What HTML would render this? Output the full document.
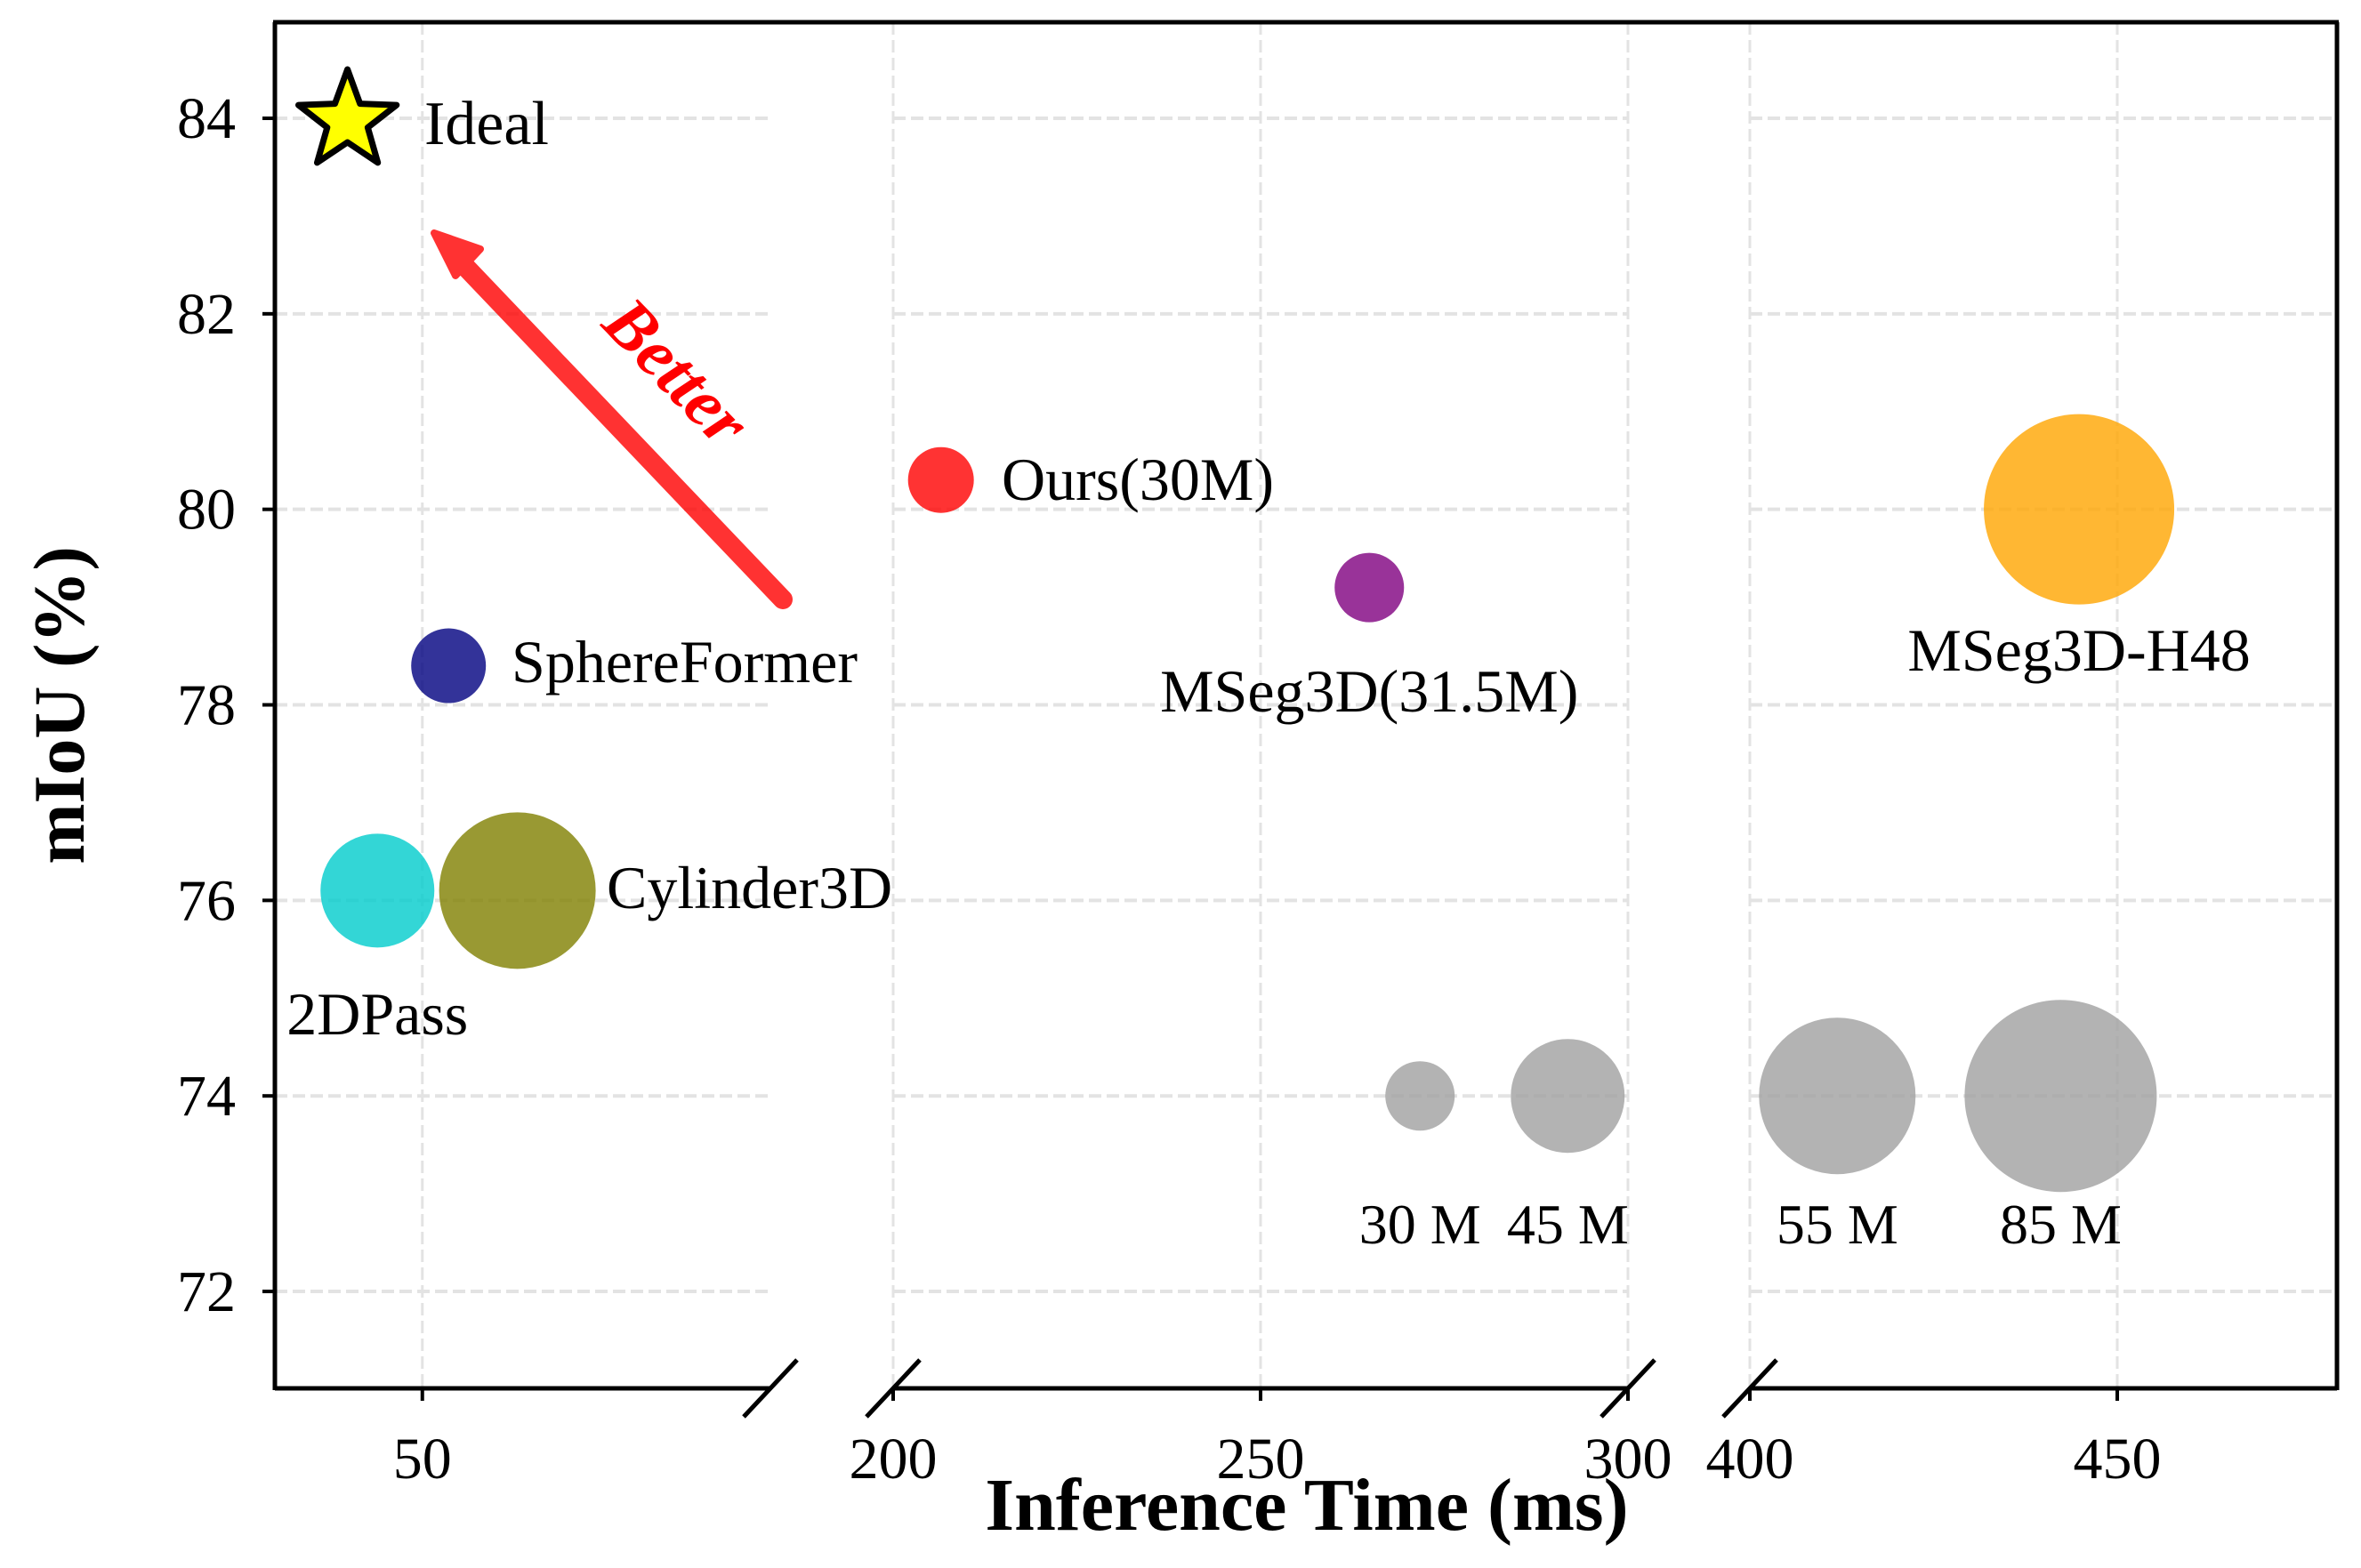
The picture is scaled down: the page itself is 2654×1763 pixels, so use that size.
<!DOCTYPE html>
<html><head><meta charset="utf-8"><style>
html,body{margin:0;padding:0;background:#fff;}
svg{display:block;font-family:"Liberation Serif","DejaVu Serif",serif;}
</style></head><body>
<svg id="chart" width="2654" height="1763" viewBox="0 0 2654 1763" xmlns="http://www.w3.org/2000/svg">
<g id="grid"></g>
<g id="marks"></g>
<g id="axes"></g>
</svg>
<script>
const names = ["2DPass","SphereFormer","Cylinder3D","Ours(30M)","MSeg3D(31.5M)","MSeg3D-H48"];
const times = [44, 53.5, 62.7, 206.5, 264.8, 444.8];
const mious = [76.1, 78.4, 76.1, 80.3, 79.2, 80.0];
const radii = [64, 42, 88, 37, 39, 107];
const colors = ["rgba(0,204,204,0.8)","rgba(0,0,128,0.8)","rgba(128,128,0,0.8)","rgba(255,0,0,0.8)","rgba(128,0,128,0.8)","rgba(255,165,0,0.8)"];
const sizeLabels = ["30 M","45 M","55 M","85 M"];
const sizeTimes = [271.7, 291.8, 411.9, 442.3];
const sizeRadii = [39, 64, 88, 108];
const sizeMiou = 74;
const yTicks = [72, 74, 76, 78, 80, 82, 84];
const xTicks = [50, 200, 250, 300, 400, 450];
const idealTime = 40, idealMiou = 84;

const NS = "http://www.w3.org/2000/svg";
const L = 309, R = 2627, T = 25, B = 1561;
const segs = [{d0:30.3, d1:96.5, p0:309, p1:866},{d0:200, d1:300, p0:1004, p1:1830},{d0:400, d1:479.9, p0:1967, p1:2627}];
function xs(v){for(const s of segs){if(v>=s.d0-0.001&&v<=s.d1+0.001)return s.p0+(v-s.d0)*(s.p1-s.p0)/(s.d1-s.d0);}return null;}
function ys(v){return 133+(84-v)*109.92;}
function mk(tag, attrs, parent){const e=document.createElementNS(NS,tag);for(const k in attrs)e.setAttribute(k,attrs[k]);parent.appendChild(e);return e;}
const grid=document.getElementById('grid'), marks=document.getElementById('marks'), axes=document.getElementById('axes');

for(const s of segs){
  for(const t of yTicks){
    const l=mk('line',{x1:s.p0,x2:s.p1,y1:ys(t),y2:ys(t),stroke:'#e3e3e3','stroke-width':4,'stroke-dasharray':'14,6'},grid);
    
    
  }
}
for(const t of xTicks){
  const l=mk('line',{x1:xs(t),x2:xs(t),y1:T,y2:B,stroke:'#e3e3e3','stroke-width':3,'stroke-dasharray':'14,6'},grid);
  
  
}

for(let i=0;i<names.length;i++){
  const c=mk('circle',{cx:xs(times[i]),cy:ys(mious[i]),r:radii[i],fill:colors[i]},marks);
  
  
}
for(let i=0;i<sizeLabels.length;i++){
  const c=mk('circle',{cx:xs(sizeTimes[i]),cy:ys(sizeMiou),r:sizeRadii[i],fill:'rgba(160,160,160,0.8)'},marks);
  
  
  const t=mk('text',{x:xs(sizeTimes[i]),y:1398,'font-size':64,'text-anchor':'middle'},marks);
  t.textContent=sizeLabels[i];
  
  
}

const labelPos=[{dx:0,dy:1163,a:'middle'},{dx:575,dy:767,a:'start'},{dx:682,dy:1021,a:'start'},{dx:1126,dy:562,a:'start'},{dx:0,dy:800,a:'middle'},{dx:0,dy:754,a:'middle'}];
for(let i=0;i<names.length;i++){
  const p=labelPos[i];
  const x=p.a==='middle'?xs(times[i]):p.dx;
  const t=mk('text',{x:x,y:p.dy,'font-size':68,'text-anchor':p.a},marks);
  t.textContent=names[i];
  
  
}

(function(){
  const cx=xs(idealTime), cy=ys(idealMiou)+3, ro=58, ri=24; let pts=[];
  for(let k=0;k<10;k++){const r=k%2?ri:ro;const a=-Math.PI/2+k*Math.PI/5;pts.push((cx+r*Math.cos(a)).toFixed(1)+','+(cy+r*Math.sin(a)).toFixed(1));}
  const s=mk('polygon',{points:pts.join(' '),fill:'#ffff00',stroke:'#000','stroke-width':7,'stroke-linejoin':'round'},marks);
  
  
  const t=mk('text',{x:477,y:162,'font-size':70},marks);
  t.textContent='Ideal';
  
  
})();

(function(){
  const g=mk('g',{opacity:0.8},marks);
  
  
  mk('line',{x1:880,y1:674,x2:510,y2:286,stroke:'#ff0000','stroke-width':22,'stroke-linecap':'round'},g);
  mk('polygon',{points:'488,262 540,280 512,310',fill:'#ff0000',stroke:'#ff0000','stroke-width':8,'stroke-linejoin':'round'},g);
  const t=mk('text',{x:0,y:0,'font-size':78,'font-weight':'bold','font-style':'italic',fill:'#ff0000','text-anchor':'middle',transform:'translate(742,436) rotate(46)'},marks);
  t.textContent='Better';
  
  
})();

mk('line',{x1:L,x2:L,y1:T,y2:B+2,stroke:'#000','stroke-width':5},axes);
mk('line',{x1:R,x2:R,y1:T,y2:B+2,stroke:'#000','stroke-width':5},axes);
mk('line',{x1:L-2,x2:R+2,y1:T,y2:T,stroke:'#000','stroke-width':5},axes);
for(const s of segs){mk('line',{x1:s.p0,x2:s.p1,y1:B,y2:B,stroke:'#000','stroke-width':5},axes);}
for(const x of [866,1004,1830,1967]){
  const b=mk('line',{x1:x-30,y1:B+32,x2:x+30,y2:B-32,stroke:'#000','stroke-width':5},axes);
  
  
}
for(const t of yTicks){
  mk('line',{x1:L-14,x2:L,y1:ys(t),y2:ys(t),stroke:'#000','stroke-width':4},axes);
  const tx=mk('text',{x:L-44,y:ys(t)+22,'font-size':66,'text-anchor':'end'},axes);
  tx.textContent=t;
  
  
}
for(const t of xTicks){
  mk('line',{x1:xs(t),x2:xs(t),y1:B,y2:B+14,stroke:'#000','stroke-width':4},axes);
  const tx=mk('text',{x:xs(t),y:1662,'font-size':66,'text-anchor':'middle'},axes);
  tx.textContent=t;
  
  
}
const xt=mk('text',{x:1469,y:1720,'font-size':84,'font-weight':'bold','text-anchor':'middle'},axes);
xt.textContent='Inference Time (ms)';


const yt=mk('text',{x:0,y:0,'font-size':82,'font-weight':'bold','text-anchor':'middle',transform:'translate(94,793) rotate(-90)'},axes);
yt.textContent='mIoU (%)';


</script>
</body></html>
